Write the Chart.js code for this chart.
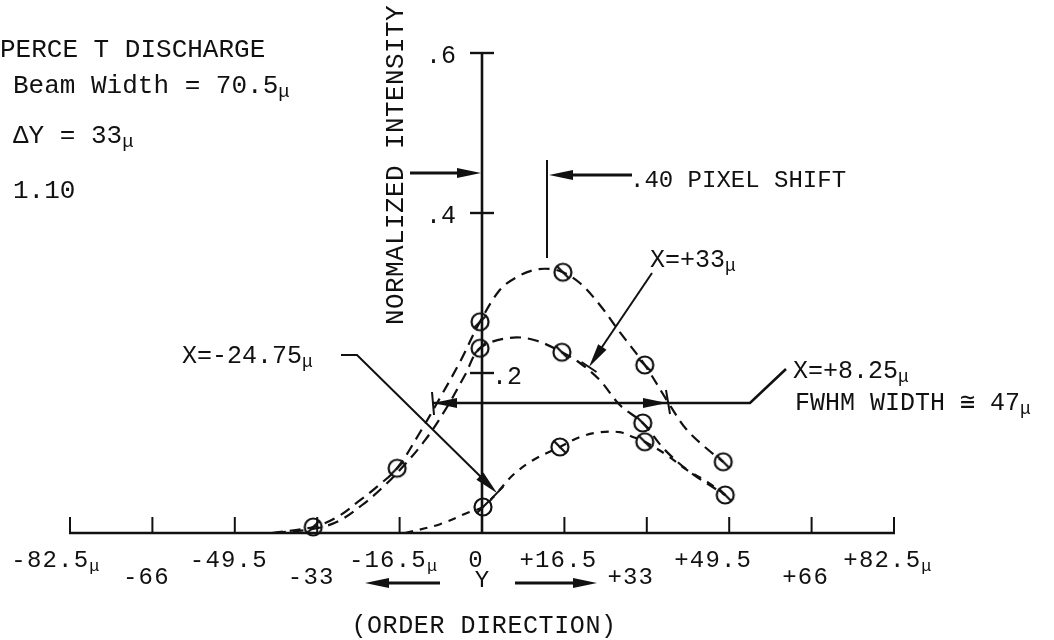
<!DOCTYPE html>
<html>
<head>
<meta charset="utf-8">
<script src="https://cdn.jsdelivr.net/npm/chart.js@4.4.0/dist/chart.umd.min.js"></script>
<style>
  html, body { margin: 0; background: #fff; }
  canvas { display: block; }
</style>
</head>
<body>
<canvas id="grafico" width="1054" height="640"></canvas>
<script>
// axis ticks
const xTicks = [-82.5, -66, -49.5, -33, -16.5, 0, 16.5, 33, 49.5, 66, 82.5];
const xTickText = ['-82.5μ', '-66', '-49.5', '-33', '-16.5μ', '0', '+16.5', '+33', '+49.5', '+66', '+82.5μ'];
const yTicks = [0.2, 0.4, 0.6];
const yTickText = ['.2', '.4', '.6'];

// measured points (circles)
const topMarkX = [-33.8, -17.0, -0.4, 16.2, 32.6, 48.3];
const topMarkY = [0.0075, 0.081, 0.264, 0.326, 0.21, 0.089];
const midMarkX = [-0.4, 16.0, 32.2, 48.7];
const midMarkY = [0.231, 0.226, 0.1375, 0.0475];
const lowMarkX = [0.2, 15.6, 32.6];
const lowMarkY = [0.0325, 0.1075, 0.114];

// dashed curves
const topCurveX = [-42.1, -33.8, -29.0, -24.4, -21.0, -17.0, -12.4, -8.4, -4.4, -0.4, 3.6, 7.0, 10.6, 13.6, 16.2, 19.6, 23.6, 27.6, 32.6, 37.6, 41.0, 45.1, 48.3];
const topCurveY = [0, 0.0075, 0.02, 0.041, 0.058, 0.081, 0.126, 0.169, 0.214, 0.264, 0.304, 0.32, 0.329, 0.33, 0.326, 0.3125, 0.285, 0.251, 0.21, 0.16, 0.129, 0.105, 0.089];
const midCurveX = [-41.5, -33.0, -28.4, -24.0, -20.4, -16.4, -11.4, -7.0, -3.4, -0.4, 5.6, 10.6, 16.0, 19.6, 23.6, 27.6, 32.2, 36.6, 41.7, 48.7];
const midCurveY = [0, 0.006, 0.016, 0.035, 0.054, 0.079, 0.116, 0.1575, 0.1975, 0.231, 0.244, 0.241, 0.226, 0.2125, 0.191, 0.16, 0.1375, 0.104, 0.076, 0.0475];
const lowCurveX = [-15.4, -8.4, -3.0, 0.2, 3.0, 6.2, 10.2, 15.6, 19.6, 23.6, 27.6, 30.2, 32.6, 37.0, 41.0, 45.1, 48.7];
const lowCurveY = [0, 0.011, 0.025, 0.0325, 0.05, 0.0725, 0.091, 0.1075, 0.12, 0.126, 0.126, 0.12, 0.114, 0.0975, 0.079, 0.064, 0.0475];

const ink = '#111';
const mono = '"Liberation Mono", "DejaVu Sans Mono", monospace';

const pairs = (xs, ys) => xs.map((x, i) => ({ x: x, y: ys[i] }));

// circle with a slash, as on the plot
function marker(dir) {
  const c = document.createElement('canvas');
  c.width = 24; c.height = 24;
  const g = c.getContext('2d');
  g.strokeStyle = ink;
  g.lineWidth = 2.2;
  g.beginPath(); g.arc(12, 12, 8.5, 0, Math.PI * 2); g.stroke();
  g.beginPath();
  if (dir > 0) { g.moveTo(6, 18); g.lineTo(18, 6); } else { g.moveTo(6, 6); g.lineTo(18, 18); }
  g.stroke();
  return c;
}
const markUp = marker(1);
const markDown = marker(-1);

function txt(ctx, str, x, y, size, align, spacing) {
  const parts = str.split('μ');
  const small = Math.round(size * 0.72);
  ctx.letterSpacing = (spacing || 0) + 'px';
  let w = 0;
  parts.forEach((p, i) => {
    ctx.font = size + 'px ' + mono;
    w += ctx.measureText(p).width;
    if (i < parts.length - 1) { ctx.font = small + 'px ' + mono; w += ctx.measureText('μ').width; }
  });
  let cx = align === 'center' ? x - w / 2 : (align === 'right' ? x - w : x);
  ctx.textAlign = 'left';
  ctx.textBaseline = 'alphabetic';
  parts.forEach((p, i) => {
    ctx.font = size + 'px ' + mono;
    ctx.fillText(p, cx, y);
    cx += ctx.measureText(p).width;
    if (i < parts.length - 1) {
      ctx.font = small + 'px ' + mono;
      ctx.fillText('μ', cx, y + 4);
      cx += ctx.measureText('μ').width;
    }
  });
  ctx.letterSpacing = '0px';
}

function line(ctx, pts, w) {
  ctx.lineWidth = w || 2;
  ctx.beginPath();
  ctx.moveTo(pts[0][0], pts[0][1]);
  for (let i = 1; i < pts.length; i++) ctx.lineTo(pts[i][0], pts[i][1]);
  ctx.stroke();
}

function head(ctx, x1, y1, x2, y2, len, half) {
  const a = Math.atan2(y2 - y1, x2 - x1);
  len = len || 22; half = half || 5;
  ctx.beginPath();
  ctx.moveTo(x2, y2);
  ctx.lineTo(x2 - len * Math.cos(a) + half * Math.sin(a), y2 - len * Math.sin(a) - half * Math.cos(a));
  ctx.lineTo(x2 - len * Math.cos(a) - half * Math.sin(a), y2 - len * Math.sin(a) + half * Math.cos(a));
  ctx.closePath();
  ctx.fill();
}

function tee(ctx, x1, y1, x2, y2, half) {
  const a = Math.atan2(y2 - y1, x2 - x1);
  line(ctx, [[x2 + half * Math.sin(a), y2 - half * Math.cos(a)], [x2 - half * Math.sin(a), y2 + half * Math.cos(a)]], 2);
}

const sketch = {
  id: 'sketch',
  beforeDraw(chart) {
    const ctx = chart.ctx;
    ctx.save();
    ctx.fillStyle = '#fff';
    ctx.fillRect(0, 0, chart.width, chart.height);
    ctx.restore();
  },
  beforeDatasetsDraw(chart) {
    const ctx = chart.ctx;
    const xs = chart.scales.x, ys = chart.scales.y;
    const x0 = xs.getPixelForValue(0), y0 = ys.getPixelForValue(0);
    ctx.save();
    ctx.strokeStyle = ink;
    ctx.fillStyle = ink;
    ctx.lineCap = 'butt';

    // x axis and upward ticks
    line(ctx, [[xs.getPixelForValue(xTicks[0]) - 1, y0], [xs.getPixelForValue(xTicks[xTicks.length - 1]) + 1, y0]], 2.6);
    const low = [-66, -33, 33, 66];
    xTicks.forEach((v, i) => {
      const px = xs.getPixelForValue(v);
      if (v !== 0) line(ctx, [[px, y0], [px, y0 - 16]], 2);
      const shift = v === 33 || v === 49.5 ? -16 : (v === -82.5 ? -14 : -6);
      txt(ctx, xTickText[i], px + shift, low.includes(v) ? 584 : 567, 24, 'center', 1.2);
    });
    txt(ctx, 'Y', x0, 587, 24, 'center');

    // y axis with crossing ticks
    line(ctx, [[x0, y0], [x0, ys.getPixelForValue(0.6)]], 2.6);
    yTicks.forEach((v, i) => {
      const py = ys.getPixelForValue(v);
      line(ctx, [[x0 - 12, py], [x0 + 12, py]], 2.4);
      if (v === 0.2) txt(ctx, yTickText[i], x0 + 10, py + 11, 25, 'left');
      else txt(ctx, yTickText[i], x0 - 26, py + 10, 25, 'right');
    });

    // axis title
    ctx.save();
    ctx.translate(403, 325);
    ctx.rotate(-Math.PI / 2);
    ctx.font = '26px ' + mono;
    ctx.letterSpacing = '0.4px';
    ctx.fillText('NORMALIZED INTENSITY', 0, 0);
    ctx.restore();

    // order direction arrows
    line(ctx, [[440, 583], [385, 583]], 3);
    head(ctx, 440, 583, 365, 583, 24, 5);
    line(ctx, [[515, 583], [575, 583]], 3);
    head(ctx, 515, 583, 597, 583, 24, 5);
    txt(ctx, '(ORDER DIRECTION)', 484, 633, 25, 'center', 0.6);

    // header text
    txt(ctx, 'PERCE T DISCHARGE', 0, 57, 26, 'left');
    txt(ctx, 'Beam Width = 70.5μ', 13, 93, 26, 'left');
    txt(ctx, 'ΔY = 33μ', 13, 143, 26, 'left');
    txt(ctx, '1.10', 13, 198, 26, 'left');

    // pixel shift marker
    line(ctx, [[410, 173], [470, 173]], 3);
    head(ctx, 410, 173, x0 - 1, 173, 24, 5);
    line(ctx, [[547, 160], [547, 258]], 2);
    line(ctx, [[632, 175], [560, 175]], 3);
    head(ctx, 632, 175, 549, 175, 24, 5);
    txt(ctx, '.40 PIXEL SHIFT', 630, 187, 24, 'left');

    // X=+33 leader
    txt(ctx, 'X=+33μ', 650, 267, 25, 'left');
    line(ctx, [[652, 273], [600, 350]], 2);
    head(ctx, 652, 273, 589, 367, 24, 5);
    tee(ctx, 652, 273, 589, 367, 9);

    // X=-24.75 leader
    txt(ctx, 'X=-24.75μ', 182, 363, 25, 'left');
    line(ctx, [[341, 355], [357, 355], [482, 478]], 2);
    head(ctx, 357, 355, 497, 493, 24, 5);
    tee(ctx, 357, 355, 497, 493, 9);

    // FWHM bar
    line(ctx, [[432, 403], [750, 403], [786, 369]], 2.6);
    head(ctx, 640, 403, 433, 403, 24, 5);
    head(ctx, 440, 403, 667, 403, 24, 5);
    line(ctx, [[432, 392], [434, 415]], 2);
    line(ctx, [[666, 390], [670, 414]], 2);
    txt(ctx, 'X=+8.25μ', 793, 378, 25, 'left');
    txt(ctx, 'FWHM WIDTH ≅ 47μ', 795, 410, 25, 'left');

    ctx.restore();
  }
};

const curve = (data, dash, w) => ({
  type: 'scatter',
  data: data,
  showLine: true,
  borderColor: ink,
  borderWidth: w,
  borderDash: dash,
  pointRadius: 0,
  tension: 0.35,
  fill: false,
  clip: false
});
const marks = (data) => ({
  type: 'scatter',
  data: data,
  showLine: false,
  pointStyle: (c) => (c.raw && c.raw.x < 5 ? markUp : markDown),
  pointRadius: 10,
  clip: false
});

new Chart(document.getElementById('grafico'), {
  type: 'scatter',
  data: {
    datasets: [
      curve(pairs(topCurveX, topCurveY), [11, 7], 2.2),
      curve(pairs(midCurveX, midCurveY), [11, 7], 2.2),
      curve(pairs(lowCurveX, lowCurveY), [8, 7], 2.2),
      marks(pairs(topMarkX, topMarkY)),
      marks(pairs(midMarkX, midMarkY)),
      marks(pairs(lowMarkX, lowMarkY))
    ]
  },
  options: {
    responsive: false,
    devicePixelRatio: 1,
    animation: false,
    layout: { padding: { left: 70, right: 160, top: 53, bottom: 107 } },
    scales: {
      x: { type: 'linear', min: -82.5, max: 82.5, display: false },
      y: { type: 'linear', min: 0, max: 0.6, display: false }
    },
    plugins: { legend: { display: false }, tooltip: { enabled: false } }
  },
  plugins: [sketch]
});
</script>
</body>
</html>
